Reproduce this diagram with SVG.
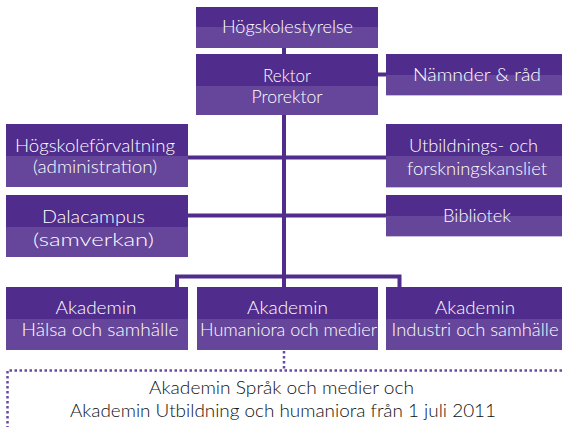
<svg xmlns="http://www.w3.org/2000/svg" width="562" height="427" viewBox="0 0 562 427">
<style>
.top{fill:#502d8c}
.bot{fill:#65469b}
.edge{fill:#c9bde0}
.t{font-family:Lato,"Noto Sans","DejaVu Sans",sans-serif;font-size:17px;font-weight:300;fill:#ffffff;text-anchor:middle}
.b{font-family:Lato,"Noto Sans","DejaVu Sans",sans-serif;font-size:17px;font-weight:300;fill:#111111;text-anchor:middle}
.ln{stroke:#502d8c;stroke-width:4;fill:none}
.dot{stroke:#6a4aa0;stroke-width:2.5;fill:none;stroke-dasharray:2.5 2.5}
</style>
<rect width="562" height="427" fill="#ffffff"/>
<g id="connectors">
<line class="ln" x1="284" y1="47" x2="284" y2="55"/>
<line class="ln" x1="284" y1="114" x2="284" y2="288"/>
<line class="ln" x1="377" y1="74.5" x2="387" y2="74.5"/>
<line class="ln" x1="187" y1="157.5" x2="387" y2="157.5"/>
<line class="ln" x1="187" y1="215.5" x2="387" y2="215.5"/>
<polyline class="ln" points="177,288 177,276.5 399.5,276.5 399.5,288"/>
<line class="dot" x1="284" y1="351" x2="284" y2="370"/>
<polyline class="dot" points="562,370.5 7.5,370.5 7.5,427"/>
</g>
<g id="hogskolestyrelse">
<rect class="top" x="196" y="7" width="182" height="20"/><rect class="bot" x="196" y="27" width="182" height="21"/>
<text class="t" x="287.5" y="33" textLength="131" lengthAdjust="spacingAndGlyphs">Högskolestyrelse</text>
</g>
<g id="rektor">
<rect class="top" x="196" y="54" width="182" height="32"/><rect class="bot" x="196" y="86" width="182" height="29"/>
<text class="t" x="287" y="82" textLength="48" lengthAdjust="spacingAndGlyphs">Rektor</text>
<text class="t" x="287" y="103" textLength="71" lengthAdjust="spacingAndGlyphs">Prorektor</text>
</g>
<g id="namnder">
<rect class="top" x="386" y="54" width="176" height="21"/><rect class="bot" x="386" y="75" width="176" height="20"/><rect class="edge" x="386" y="95" width="176" height="1"/>
<text class="t" x="477" y="81" textLength="128" lengthAdjust="spacingAndGlyphs">Nämnder &amp; råd</text>
</g>
<g id="hogskoleforvaltning">
<rect class="top" x="6" y="124" width="182" height="32"/><rect class="bot" x="6" y="156" width="182" height="31"/>
<text class="t" x="95" y="152" textLength="160" lengthAdjust="spacingAndGlyphs">Högskoleförvaltning</text>
<text class="t" x="95" y="173" textLength="124" lengthAdjust="spacingAndGlyphs">(administration)</text>
</g>
<g id="utbildningskansliet">
<rect class="top" x="386" y="124" width="176" height="32"/><rect class="bot" x="386" y="156" width="176" height="31"/><rect class="edge" x="386" y="187" width="176" height="1"/>
<text class="t" x="473.5" y="152" textLength="129" lengthAdjust="spacingAndGlyphs">Utbildnings- och</text>
<text class="t" x="477" y="175" textLength="140" lengthAdjust="spacingAndGlyphs">forskningskansliet</text>
</g>
<g id="dalacampus">
<rect class="top" x="6" y="195" width="182" height="32"/><rect class="bot" x="6" y="227" width="182" height="30"/>
<text class="t" x="93.5" y="223" textLength="103" lengthAdjust="spacingAndGlyphs">Dalacampus</text>
<text class="t" x="93.5" y="246" textLength="121" lengthAdjust="spacingAndGlyphs">(samverkan)</text>
</g>
<g id="bibliotek">
<rect class="top" x="386" y="195" width="176" height="21"/><rect class="bot" x="386" y="216" width="176" height="20"/><rect class="edge" x="386" y="236" width="176" height="1"/>
<text class="t" x="477" y="222" textLength="68" lengthAdjust="spacingAndGlyphs">Bibliotek</text>
</g>
<g id="akademin-halsa">
<rect class="top" x="6" y="287" width="182" height="32"/><rect class="bot" x="6" y="319" width="182" height="31"/>
<text class="t" x="96" y="314" textLength="81" lengthAdjust="spacingAndGlyphs">Akademin</text>
<text class="t" x="100" y="336" textLength="157" lengthAdjust="spacingAndGlyphs">Hälsa och samhälle</text>
</g>
<g id="akademin-humaniora">
<rect class="top" x="197" y="287" width="181" height="32"/><rect class="bot" x="197" y="319" width="181" height="31"/>
<text class="t" x="287.5" y="314" textLength="81" lengthAdjust="spacingAndGlyphs">Akademin</text>
<text class="t" x="288.5" y="336" textLength="177" lengthAdjust="spacingAndGlyphs">Humaniora och medier</text>
</g>
<g id="akademin-industri">
<rect class="top" x="386" y="287" width="176" height="32"/><rect class="bot" x="386" y="319" width="176" height="31"/>
<text class="t" x="475" y="314" textLength="80" lengthAdjust="spacingAndGlyphs">Akademin</text>
<text class="t" x="475" y="336" textLength="167" lengthAdjust="spacingAndGlyphs">Industri och samhälle</text>
</g>
<g id="note">
<text class="b" x="281.5" y="394" textLength="265" lengthAdjust="spacingAndGlyphs">Akademin Språk och medier och</text>
<text class="b" x="283" y="417" textLength="426" lengthAdjust="spacingAndGlyphs">Akademin Utbildning och humaniora från 1 juli 2011</text>
</g>
</svg>
